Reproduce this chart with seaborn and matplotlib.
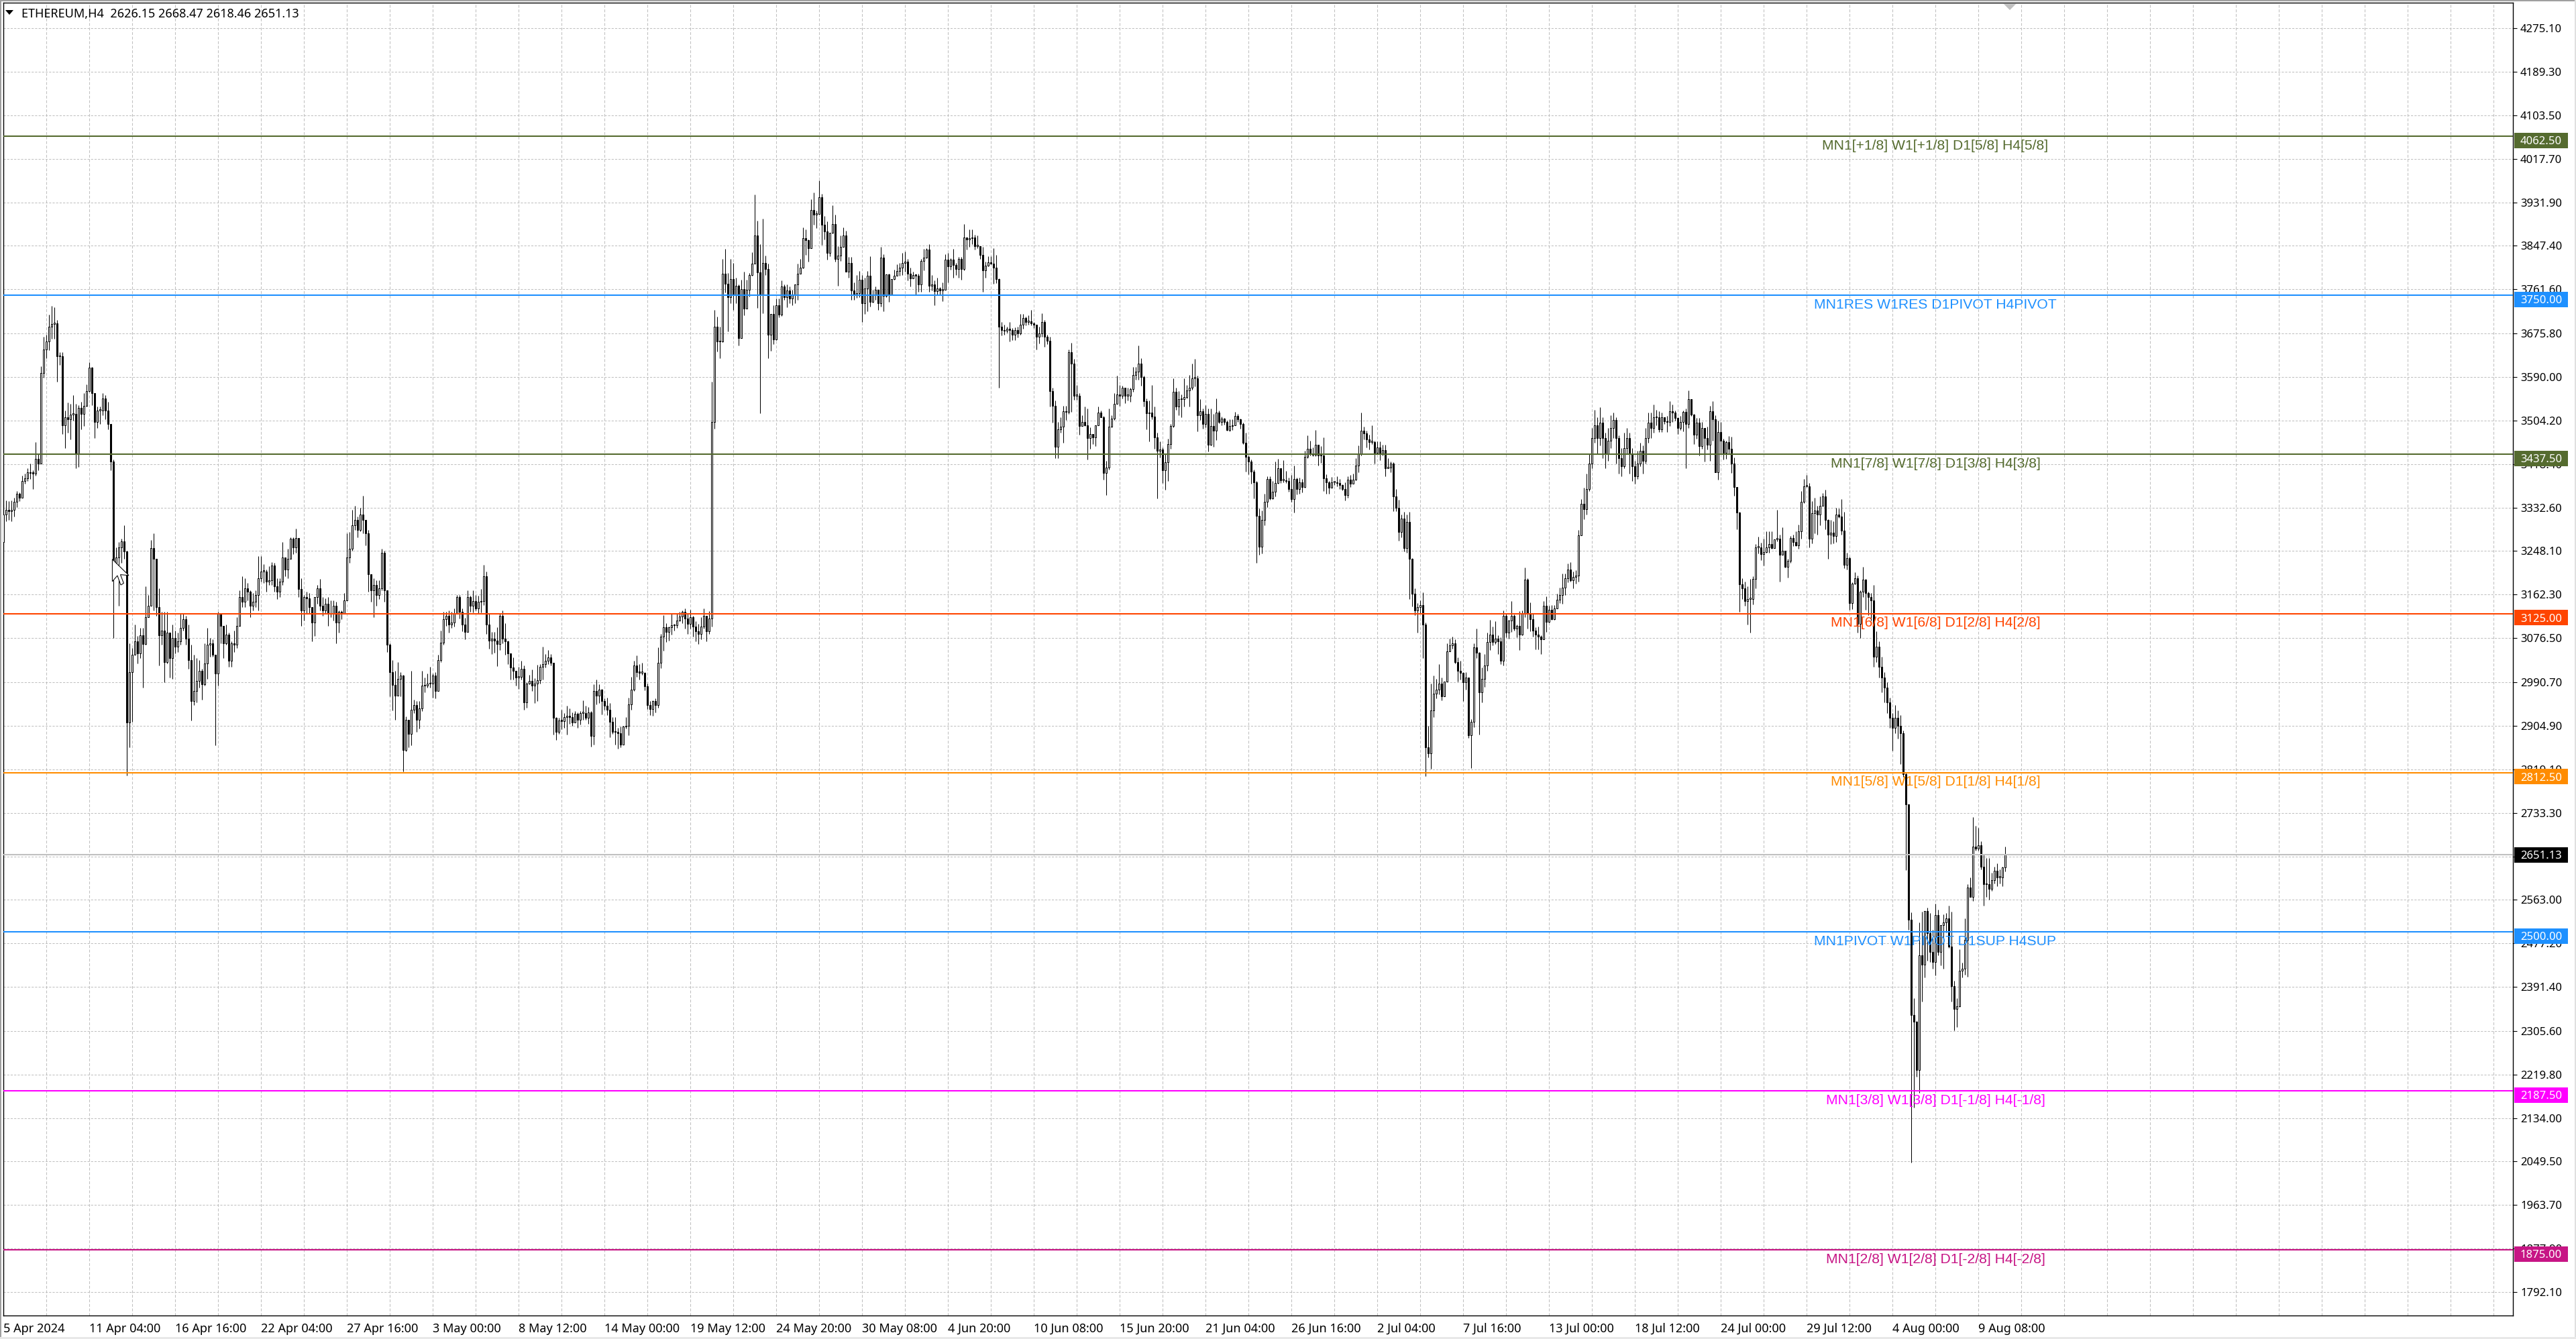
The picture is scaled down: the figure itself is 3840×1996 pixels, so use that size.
import matplotlib
matplotlib.use("Agg")
import matplotlib.pyplot as plt
from matplotlib.patches import Polygon, Rectangle
from matplotlib.transforms import IdentityTransform
import numpy as np
import pandas as pd
import seaborn as sns

# precios, una vela H4 por posicion
first_open = 3265
closes = [
    3319,3329,3326,3329,3344,3361,3353,3386,3391,3402, 3401,3400,3429,3420,3597,3643,3659,3689,3694,3695,
    3630,3630,3495,3511,3506,3516,3517,3440,3529,3517, 3533,3562,3608,3558,3502,3524,3524,3548,3524,3497,
    3423,3225,3235,3255,3267,3247,2911,3010,3044,3071, 3047,3083,3065,3118,3141,3253,3233,3138,3083,3091,
    3030,3087,3037,3077,3060,3070,3097,3114,3076,3034, 2953,2973,2993,3013,2986,3027,3064,3067,3044,3007,
    3124,3101,3067,3084,3032,3067,3064,3101,3157,3148, 3175,3168,3141,3148,3161,3195,3208,3208,3188,3191,
    3220,3178,3168,3188,3235,3212,3232,3272,3255,3273, 3173,3131,3158,3155,3138,3107,3158,3175,3141,3131,
    3144,3124,3124,3141,3107,3128,3124,3151,3235,3252, 3299,3309,3289,3320,3309,3282,3202,3171,3181,3161,
    3175,3245,3171,3064,3010,2985,2964,2997,3003,2857, 2916,2889,2936,2946,2917,2939,2983,2983,2987,2987,
    3003,2973,3034,3068,3114,3120,3104,3107,3125,3158, 3128,3104,3089,3157,3140,3149,3135,3148,3149,3198,
    3104,3072,3076,3072,3065,3120,3076,3070,3047,3019, 3012,3000,3001,3016,2951,2987,2993,2983,2988,2994,
    3021,3026,3032,3039,3028,2920,2892,2915,2914,2921, 2924,2922,2911,2928,2916,2930,2930,2920,2931,2885,
    2973,2964,2975,2953,2944,2936,2912,2893,2892,2890, 2868,2903,2905,2947,2975,3023,3010,3009,3009,2982,
    2946,2938,2953,2946,3028,3080,3098,3089,3098,3102, 3102,3111,3119,3129,3115,3105,3118,3100,3090,3085,
    3100,3120,3090,3115,3501,3689,3660,3659,3793,3773, 3747,3782,3750,3769,3666,3762,3724,3761,3790,3812,
    3867,3795,3752,3813,3802,3672,3713,3663,3730,3712, 3768,3747,3760,3744,3752,3772,3793,3804,3862,3859,
    3842,3918,3909,3910,3943,3889,3875,3834,3873,3890, 3821,3828,3845,3867,3796,3813,3760,3750,3754,3781,
    3734,3763,3788,3737,3752,3761,3734,3824,3749,3791, 3752,3782,3788,3798,3804,3813,3816,3792,3783,3790,
    3789,3772,3817,3824,3840,3769,3771,3758,3764,3760, 3761,3820,3807,3820,3810,3802,3821,3802,3864,3860,
    3862,3864,3847,3847,3829,3799,3808,3815,3812,3805, 3782,3689,3682,3680,3684,3682,3673,3682,3675,3693,
    3705,3698,3699,3695,3693,3669,3675,3697,3669,3661, 3562,3533,3452,3487,3492,3522,3521,3638,3616,3553,
    3553,3493,3502,3495,3470,3478,3471,3495,3520,3511, 3401,3412,3492,3508,3537,3555,3553,3568,3553,3553,
    3566,3594,3600,3616,3589,3542,3518,3520,3512,3471, 3445,3447,3407,3422,3458,3493,3561,3531,3546,3546,
    3550,3563,3569,3587,3587,3514,3523,3498,3517,3456, 3493,3484,3520,3502,3508,3502,3486,3493,3495,3513,
    3506,3498,3460,3433,3423,3404,3383,3317,3256,3309, 3345,3390,3351,3364,3382,3410,3387,3387,3385,3370,
    3350,3390,3370,3383,3374,3433,3448,3439,3437,3456, 3435,3435,3391,3383,3372,3383,3383,3381,3378,3370,
    3358,3388,3380,3388,3416,3438,3484,3479,3467,3462, 3462,3441,3451,3439,3446,3411,3412,3420,3355,3333,
    3285,3311,3254,3305,3233,3164,3131,3138,3142,3103, 2863,2850,2935,2968,2975,2987,2963,2992,3051,3063,
    3067,3030,3013,3009,2990,2999,2886,2913,3058,3048, 2970,2997,3023,3069,3084,3069,3076,3071,3032,3120,
    3088,3111,3121,3095,3101,3084,3124,3192,3125,3114, 3092,3084,3080,3074,3140,3109,3133,3114,3135,3152,
    3162,3176,3194,3212,3190,3197,3200,3279,3340,3330, 3370,3420,3470,3495,3470,3500,3470,3440,3465,3490,
    3505,3470,3430,3415,3450,3470,3440,3415,3395,3420, 3445,3425,3470,3500,3490,3510,3511,3487,3511,3503,
    3501,3523,3520,3509,3490,3502,3521,3498,3546,3516, 3476,3500,3454,3490,3470,3456,3522,3507,3403,3482,
    3465,3441,3462,3449,3420,3374,3324,3182,3175,3150, 3154,3154,3193,3255,3255,3242,3246,3255,3261,3254,
    3271,3272,3241,3249,3217,3228,3273,3266,3259,3287, 3345,3375,3375,3272,3322,3328,3319,3337,3355,3309,
    3280,3284,3278,3319,3315,3288,3221,3234,3146,3184, 3195,3105,3168,3192,3165,3157,3151,3040,3060,3020,
    3000,2980,2950,2920,2900,2920,2905,2890,2810,2750, 2524,2337,2323,2228,2454,2436,2541,2498,2460,2441,
    2533,2460,2513,2519,2526,2471,2393,2349,2354,2423, 2428,2484,2587,2569,2667,2663,2670,2628,2593,2594,
    2585,2601,2620,2607,2607,2626,2651,
]
highs = [
    3339,3347,3346,3347,3353,3366,3363,3396,3400,3410, 3420,3407,3462,3440,3611,3669,3672,3712,3729,3727,
    3702,3638,3638,3524,3540,3537,3554,3537,3534,3541, 3558,3575,3618,3609,3558,3531,3531,3558,3554,3541,
    3497,3427,3255,3265,3272,3298,3249,3067,3057,3104, 3081,3097,3097,3178,3161,3269,3282,3233,3175,3128,
    3128,3128,3087,3104,3091,3087,3124,3124,3121,3104, 3064,3044,3037,3034,3017,3067,3097,3077,3074,3044,
    3128,3124,3101,3104,3087,3070,3091,3118,3171,3198, 3195,3185,3171,3165,3171,3238,3238,3222,3212,3218,
    3226,3225,3195,3195,3265,3235,3252,3275,3275,3292, 3273,3195,3161,3168,3165,3138,3158,3181,3193,3158,
    3155,3158,3151,3151,3148,3131,3131,3165,3282,3285, 3329,3336,3316,3333,3357,3309,3289,3202,3195,3191,
    3191,3252,3249,3168,3067,3034,3013,3030,3010,3005, 2923,2916,3013,2956,2953,2953,3013,3000,3007,3020,
    3007,3010,3044,3091,3128,3128,3131,3128,3135,3161, 3161,3135,3116,3171,3160,3171,3162,3160,3173,3221,
    3208,3124,3089,3089,3098,3124,3131,3106,3072,3041, 3039,3012,3021,3032,3023,2990,3004,3015,2998,3025,
    3026,3060,3045,3054,3045,3029,2921,2920,2936,2929, 2944,2939,2931,2933,2931,2933,2955,2944,2942,2934,
    2986,2995,2986,2977,2958,2960,2949,2921,2922,2900, 2903,2905,2921,2960,3001,3032,3043,3026,3028,3010,
    2988,2953,2955,2958,3059,3085,3122,3106,3100,3124, 3105,3124,3128,3131,3135,3125,3132,3120,3110,3105,
    3118,3135,3120,3130,3580,3722,3708,3689,3821,3841, 3794,3821,3814,3785,3772,3781,3796,3781,3794,3835,
    3948,3897,3851,3900,3828,3812,3713,3730,3744,3744, 3779,3771,3772,3768,3761,3772,3812,3821,3883,3879,
    3860,3939,3952,3917,3976,3949,3906,3895,3873,3927, 3909,3847,3868,3883,3877,3825,3825,3776,3790,3798,
    3790,3785,3798,3827,3761,3768,3761,3845,3831,3791, 3792,3782,3801,3811,3814,3834,3836,3821,3805,3796,
    3790,3792,3821,3841,3842,3851,3790,3779,3785,3766, 3776,3831,3834,3823,3841,3814,3825,3825,3890,3864,
    3880,3880,3869,3867,3847,3845,3816,3827,3827,3842, 3829,3783,3697,3693,3689,3697,3686,3687,3689,3713,
    3713,3708,3711,3722,3697,3691,3688,3715,3702,3673, 3669,3568,3544,3502,3510,3533,3533,3644,3657,3625,
    3574,3558,3515,3531,3528,3491,3476,3495,3531,3524, 3513,3425,3528,3515,3558,3592,3574,3572,3568,3568,
    3568,3610,3610,3651,3627,3592,3547,3544,3574,3531, 3480,3463,3451,3438,3468,3498,3587,3568,3562,3555,
    3587,3574,3593,3616,3625,3592,3546,3528,3534,3528, 3528,3517,3547,3524,3512,3509,3504,3506,3506,3521,
    3517,3508,3500,3480,3436,3427,3408,3385,3331,3328, 3360,3394,3394,3386,3424,3429,3408,3426,3405,3392,
    3397,3416,3392,3392,3390,3445,3475,3465,3451,3485, 3457,3454,3471,3399,3385,3393,3385,3395,3390,3379,
    3383,3394,3397,3400,3430,3455,3520,3492,3484,3476, 3495,3465,3463,3463,3456,3457,3430,3423,3422,3370,
    3348,3320,3325,3320,3325,3234,3175,3146,3151,3167, 3108,2905,2988,3003,2997,3026,3000,2992,3067,3076,
    3080,3074,3039,3032,3010,3010,2995,2918,3067,3096, 3049,3019,3045,3087,3113,3100,3110,3082,3078,3131,
    3124,3113,3150,3123,3104,3130,3131,3216,3194,3147, 3124,3098,3099,3082,3149,3159,3140,3142,3142,3164,
    3176,3203,3203,3223,3226,3208,3210,3289,3350,3372, 3400,3440,3490,3525,3510,3530,3510,3480,3490,3515,
    3520,3510,3475,3450,3480,3490,3480,3450,3425,3445, 3460,3455,3490,3520,3520,3535,3525,3522,3520,3511,
    3513,3542,3535,3524,3511,3513,3524,3528,3563,3546, 3517,3509,3509,3502,3489,3492,3533,3542,3515,3504,
    3502,3469,3465,3474,3472,3432,3368,3325,3195,3188, 3179,3193,3198,3261,3276,3264,3272,3287,3287,3287,
    3271,3329,3280,3294,3247,3233,3277,3280,3286,3300, 3365,3390,3397,3381,3346,3353,3337,3355,3362,3368,
    3310,3309,3306,3333,3331,3350,3325,3244,3237,3186, 3206,3199,3171,3217,3193,3168,3165,3181,3090,3070,
    3040,3010,2990,2960,2930,2945,2935,2925,2895,2813, 2750,2538,2369,2325,2519,2540,2541,2548,2537,2504,
    2555,2544,2513,2534,2537,2552,2540,2404,2369,2466, 2440,2526,2593,2607,2725,2708,2704,2678,2651,2645,
    2645,2616,2628,2634,2622,2628,2668,
]
lows = [
    3235,3307,3309,3307,3316,3334,3346,3378,3380,3386, 3390,3370,3396,3407,3420,3588,3627,3642,3665,3665,
    3581,3613,3477,3450,3480,3467,3504,3410,3413,3487, 3494,3531,3561,3534,3470,3490,3497,3514,3507,3487,
    3407,3077,3218,3141,3225,3232,2807,2862,2913,3044, 3027,3037,2980,3064,3118,3141,3131,3121,3023,3064,
    2990,3027,3000,2997,3047,3050,3064,3091,3064,3017, 2915,2946,2950,2980,2956,2983,2997,3040,3040,2866,
    2983,3067,3037,3064,3020,3020,3050,3057,3101,3138, 3138,3151,3118,3131,3138,3131,3188,3185,3168,3181,
    3181,3168,3154,3158,3181,3198,3195,3232,3242,3245, 3158,3101,3111,3124,3124,3070,3081,3144,3131,3121,
    3124,3101,3118,3111,3067,3087,3114,3128,3151,3225, 3249,3289,3275,3287,3282,3259,3168,3148,3118,3141,
    3154,3171,3148,3050,2963,2935,2916,2980,2963,2815, 2855,2862,2866,2929,2892,2899,2933,2970,2980,2980,
    2960,2958,2973,3030,3064,3101,3087,3097,3100,3124, 3115,3090,3074,3089,3129,3127,3131,3124,3127,3142,
    3085,3056,3045,3048,3022,3054,3067,3044,3026,2995, 2995,2983,2977,2995,2936,2940,2986,2973,2949,2953,
    2988,2995,3019,3026,3023,2887,2877,2889,2898,2900, 2887,2909,2905,2911,2900,2907,2916,2916,2909,2864,
    2868,2947,2949,2927,2936,2925,2882,2889,2868,2860, 2863,2868,2899,2886,2936,2973,3001,2995,3004,2974,
    2938,2925,2924,2931,2940,3018,3052,3069,3072,3084, 3092,3097,3110,3106,3095,3085,3095,3080,3070,3065,
    3075,3095,3070,3085,3100,3488,3640,3627,3658,3755, 3679,3735,3722,3735,3651,3667,3711,3724,3748,3789,
    3812,3725,3519,3715,3790,3626,3641,3654,3662,3707, 3710,3741,3726,3735,3730,3735,3741,3792,3803,3829,
    3816,3845,3889,3882,3910,3849,3860,3820,3827,3871, 3816,3769,3817,3845,3796,3785,3741,3741,3745,3747,
    3698,3713,3719,3728,3736,3741,3722,3728,3719,3746, 3737,3754,3781,3790,3789,3790,3796,3779,3768,3783,
    3751,3757,3757,3799,3823,3757,3759,3730,3750,3750, 3739,3761,3776,3801,3785,3790,3785,3781,3799,3840,
    3845,3851,3840,3842,3821,3757,3784,3807,3811,3773, 3774,3569,3671,3673,3676,3660,3662,3662,3667,3673,
    3684,3691,3693,3691,3686,3643,3656,3669,3649,3654, 3531,3500,3430,3430,3480,3460,3505,3517,3521,3545,
    3545,3476,3495,3493,3427,3448,3458,3454,3495,3510, 3388,3358,3408,3491,3505,3553,3533,3548,3538,3544,
    3541,3561,3585,3585,3572,3531,3487,3463,3506,3448, 3351,3432,3381,3368,3386,3449,3491,3525,3515,3511,
    3531,3547,3531,3565,3571,3483,3505,3488,3491,3444, 3455,3452,3466,3499,3495,3496,3484,3483,3486,3504,
    3502,3488,3458,3404,3399,3380,3351,3225,3240,3243, 3298,3334,3348,3350,3355,3380,3381,3383,3382,3364,
    3344,3324,3359,3361,3363,3372,3430,3435,3434,3434, 3416,3421,3366,3360,3361,3375,3378,3375,3370,3367,
    3347,3353,3373,3380,3387,3403,3435,3467,3451,3447, 3458,3420,3438,3426,3435,3395,3410,3403,3326,3326,
    3268,3275,3247,3245,3153,3139,3122,3087,3124,3038, 2806,2843,2820,2922,2959,2966,2955,2962,2995,3051,
    3056,3027,2992,2995,2953,2975,2881,2821,2902,3038, 2888,2951,2981,3012,3053,3063,3065,3045,3026,3023,
    3078,3076,3089,3091,3078,3054,3082,3118,3096,3090, 3080,3055,3055,3045,3074,3089,3108,3113,3113,3142,
    3145,3144,3162,3187,3188,3174,3184,3188,3279,3310, 3320,3365,3410,3460,3440,3455,3430,3410,3425,3450,
    3470,3420,3400,3395,3410,3440,3400,3385,3380,3390, 3415,3400,3420,3460,3470,3480,3495,3482,3482,3498,
    3482,3493,3501,3504,3478,3485,3483,3410,3490,3513, 3458,3469,3436,3449,3423,3447,3425,3464,3403,3388,
    3438,3427,3429,3438,3401,3356,3291,3129,3153,3140, 3104,3087,3143,3175,3243,3230,3220,3245,3244,3252,
    3253,3267,3188,3241,3215,3196,3225,3258,3258,3252, 3272,3342,3373,3255,3263,3282,3280,3298,3337,3291,
    3232,3261,3263,3265,3313,3280,3214,3211,3133,3134, 3183,3088,3077,3157,3133,3122,3111,3020,3030,3000,
    2970,2950,2930,2900,2856,2890,2880,2830,2805,2621, 2504,2047,2155,2216,2184,2363,2410,2443,2441,2428,
    2414,2454,2434,2427,2499,2469,2363,2307,2313,2352, 2410,2416,2412,2569,2561,2660,2660,2623,2551,2569,
    2563,2581,2595,2590,2595,2590,2618,
]

y_ticks = [4275.10, 4189.30, 4103.50, 4017.70, 3931.90, 3847.40, 3761.60, 3675.80, 3590.00, 3504.20,
           3418.40, 3332.60, 3248.10, 3162.30, 3076.50, 2990.70, 2904.90, 2819.10, 2733.30, 2647.50,
           2563.00, 2477.20, 2391.40, 2305.60, 2219.80, 2134.00, 2049.50, 1963.70, 1877.90, 1792.10]
date_labels = ["5 Apr 2024", "11 Apr 04:00", "16 Apr 16:00", "22 Apr 04:00", "27 Apr 16:00", "3 May 00:00",
               "8 May 12:00", "14 May 00:00", "19 May 12:00", "24 May 20:00", "30 May 08:00", "4 Jun 20:00",
               "10 Jun 08:00", "15 Jun 20:00", "21 Jun 04:00", "26 Jun 16:00", "2 Jul 04:00", "7 Jul 16:00",
               "13 Jul 00:00", "18 Jul 12:00", "24 Jul 00:00", "29 Jul 12:00", "4 Aug 00:00", "9 Aug 08:00"]

level_prices = [4062.50, 3750.00, 3437.50, 3125.00, 2812.50, 2500.00, 2187.50, 1875.00]
level_colors = ["#556B2F", "#1E90FF", "#556B2F", "#FF4500", "#FF8C00", "#1E90FF", "#FF00FF", "#C71585"]
level_labels = ["MN1[+1/8] W1[+1/8] D1[5/8] H4[5/8]", "MN1RES W1RES D1PIVOT H4PIVOT",
                "MN1[7/8] W1[7/8] D1[3/8] H4[3/8]", "MN1[6/8] W1[6/8] D1[2/8] H4[2/8]",
                "MN1[5/8] W1[5/8] D1[1/8] H4[1/8]", "MN1PIVOT W1PIVOT D1SUP H4SUP",
                "MN1[3/8] W1[3/8] D1[-1/8] H4[-1/8]", "MN1[2/8] W1[2/8] D1[-2/8] H4[-2/8]"]
last_price = 2651.13
header = "ETHEREUM,H4  2626.15 2668.47 2618.46 2651.13"

W, H = 3840, 1996
LEFT, RIGHT, TOP, BOTTOM = 5, 3746, 4, 1961
BAR_PX = 4
GRID = "#c0c0c0"
FONT = "Noto Sans"

assert len(closes) == len(highs) == len(lows), (len(closes), len(highs), len(lows))

df = pd.DataFrame({"close": closes, "high": highs, "low": lows})
df["bar"] = np.arange(len(df))
df["open"] = df["close"].shift(1).fillna(first_open)
df["high"] = df[["open", "close", "high"]].max(axis=1)
df["low"] = df[["open", "close", "low"]].min(axis=1)
up = df[df["close"] >= df["open"]]
down = df[df["close"] < df["open"]]

sns.set_theme(style="white")
plt.rcParams["font.family"] = [FONT, "DejaVu Sans"]

fig = plt.figure(figsize=(W / 100, H / 100), dpi=100, facecolor="white")
ax = fig.add_axes([LEFT / W, (H - BOTTOM) / H, (RIGHT - LEFT) / W, (BOTTOM - TOP) / H])
x_max = (RIGHT - LEFT) / BAR_PX
ax.set_xlim(0, x_max)
ax.set_ylim(1746.4, 4324.8)

# rejilla: etiquetas cada 32 velas, lineas cada 16
major = np.arange(len(date_labels)) * 32
minor = np.arange(16, x_max, 32)
extra = np.arange(len(date_labels) * 32, x_max, 32)
ax.set_xticks(major)
ax.set_xticklabels(date_labels, ha="left", fontsize=13, color="black")
ax.set_xticks(np.concatenate([minor, extra]), minor=True)
ax.set_yticks(y_ticks)
ax.set_yticklabels([f"{t:.2f}" for t in y_ticks], fontsize=12, color="black")
ax.yaxis.tick_right()
ax.tick_params(axis="y", length=4, width=0.8, color="black", pad=4)
ax.tick_params(axis="x", which="major", length=4, width=0.8, color="black", pad=4)
ax.tick_params(axis="x", which="minor", length=0)
ax.set_axisbelow(True)
ax.grid(True, axis="y", color=GRID, lw=0.75, ls=(0, (3, 2)))
ax.grid(True, axis="x", which="both", color=GRID, lw=0.75, ls=(0, (4, 2.5)))
for s in ax.spines.values():
    s.set_visible(True)
    s.set_color("black")
    s.set_linewidth(1.0)

# velas
ax.vlines(df["bar"], df["low"], df["high"], color="black", lw=0.75, zorder=3)
ax.bar(up["bar"], (up["close"] - up["open"]).clip(lower=2), bottom=up["open"], width=0.5,
       facecolor="white", edgecolor="black", linewidth=0.75, zorder=4)
ax.bar(down["bar"], (down["open"] - down["close"]).clip(lower=2), bottom=down["close"], width=0.6,
       facecolor="black", edgecolor="black", linewidth=0.75, zorder=4)

# niveles
levels_df = pd.DataFrame({
    "bar": [0, x_max] * (len(level_prices) + 1),
    "price": [p for p in level_prices + [last_price] for _ in range(2)],
    "level": [n for n in level_labels + ["last"] for _ in range(2)],
})
palette = dict(zip(level_labels, level_colors))
palette["last"] = GRID
sns.lineplot(data=levels_df, x="bar", y="price", hue="level", palette=palette, estimator=None,
             legend=False, lw=1.5, ax=ax, zorder=5)
ax.set_xlabel("")
ax.set_ylabel("")
ax.set_xlim(0, x_max)
ax.set_ylim(1746.4, 4324.8)


def y_px(price):
    return ax.transData.transform((0, price))[1]


def price_box(price, color, offset):
    y = y_px(price) - offset
    fig.add_artist(Rectangle((3748, y - 11.5), 80, 23, facecolor=color, edgecolor="none",
                             transform=IdentityTransform(), zorder=8))
    fig.text(3788 / W, y / H, f"{price:.2f}", color="white", fontsize=12, ha="center", va="center_baseline",
             zorder=9)


fig.canvas.draw()
for price, color, label in zip(level_prices, level_colors, level_labels):
    price_box(price, color, 6)
    fig.text(2885 / W, (y_px(price) - 12) / H, label, color=color, fontsize=15.2, family="Liberation Sans",
             ha="center", va="center_baseline", zorder=7)
price_box(last_price, "black", 0)

# cabecera, marcador superior y puntero del raton
fig.text(32 / W, (H - 19) / H, header, fontsize=13, color="black", va="center_baseline")
fig.add_artist(Polygon([(8, H - 15), (20, H - 15), (14, H - 22)], closed=True, facecolor="black",
                       edgecolor="none", transform=IdentityTransform()))
fig.add_artist(Polygon([(2986, H - 5), (3006, H - 5), (2996, H - 15)], closed=True, facecolor="#c0c0c0",
                       edgecolor="none", transform=IdentityTransform(), zorder=6))
cursor = [(167.4, 833.7), (167.4, 866.8), (175, 858), (180, 872), (184.4, 869.4), (179.5, 856.6), (192, 857.7)]
fig.add_artist(Polygon([(x, H - y) for x, y in cursor], closed=True, facecolor="white", edgecolor="black",
                       linewidth=0.75, transform=IdentityTransform(), zorder=10))

# marco de la ventana
for rect, color in [((0, H - 2, W, 2), "#a0a0a0"), ((0, 0, 2, H), "#a0a0a0"), ((W - 2, 0, 2, H), "#e0e0e0"),
                    ((0, 0, W, 3), "#e8e8e8")]:
    fig.add_artist(Rectangle(rect[:2], rect[2], rect[3], facecolor=color, edgecolor="none",
                             transform=IdentityTransform(), zorder=11))

fig.savefig("out.png", dpi=100, facecolor="white")
plt.close(fig)
print(len(df))
